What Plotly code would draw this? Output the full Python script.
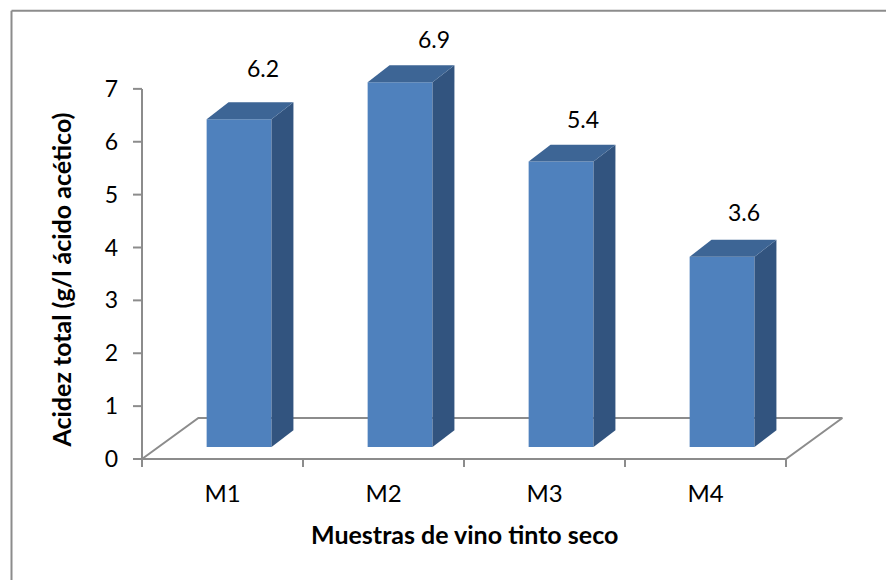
import plotly.graph_objects as go

# Acidez total por muestra de vino
categories = ["M1", "M2", "M3", "M4"]
values = [6.2, 6.9, 5.4, 3.6]
y_ticks = [0, 1, 2, 3, 4, 5, 6, 7]

# Oblique projection, in axis units
BAR_WIDTH = 0.403
BAR_SHIFT = 0.103
BAR_LIFT = 0.225
DEPTH_X = 0.136
DEPTH_Y = 0.32
FLOOR_X = 0.35
FLOOR_Y = 0.775

# Hand-placed value labels (pixels, relative to the bar's top centre)
label_dx = [24, 34, 22, 22]
label_dy = [51, 43, 43, 45]

FRONT = "#4F81BD"
TOP = "#3D6595"
SIDE = "#32547F"
GREY = "#8C8C8C"
FONT = "Lato"

W, H = 886, 580

# Pixel layout: one category is 161 px wide, one y unit is 52.9 px tall.
# The plotting area is larger than the 0-4 / 0-7 ranges so the depth of the
# bars and the floor are not clipped.
PX_X, PX_Y = 161.0, 52.9
ORIGIN_X, ORIGIN_Y = 142.0, 459.0
PLOT_L, PLOT_R = 132.0, 850.0
PLOT_B, PLOT_T = 470.0, ORIGIN_Y - 8 * PX_Y
X_RANGE = [(PLOT_L - ORIGIN_X) / PX_X, (PLOT_R - ORIGIN_X) / PX_X]
Y_RANGE = [(ORIGIN_Y - PLOT_B) / PX_Y, (ORIGIN_Y - PLOT_T) / PX_Y]
TICK_X = 9 / PX_X
TICK_Y = 8 / PX_Y


def paper_x(px):
    return (px - PLOT_L) / (PLOT_R - PLOT_L)


def paper_y(py):
    return (PLOT_B - py) / (PLOT_B - PLOT_T)


def base_line(xs, ys):
    return go.Scatter(x=xs, y=ys, mode="lines", line=dict(color=GREY, width=2),
                      hoverinfo="skip", showlegend=False)


fig = go.Figure()

# Floor of the chart, drawn behind the bars on the base axes
n = len(categories)
fig.add_trace(base_line([0, FLOOR_X, n + FLOOR_X, n, 0],
                        [0, FLOOR_Y, FLOOR_Y, 0, 0]))

# Axis lines and tick marks
fig.add_trace(base_line([0, 0], [-TICK_Y, max(y_ticks)]))
tick_xs, tick_ys = [], []
for t in y_ticks:
    tick_xs += [-TICK_X, 0, None]
    tick_ys += [t, t, None]
for i in range(n + 1):
    tick_xs += [i, i, None]
    tick_ys += [0, -TICK_Y, None]
fig.add_trace(base_line(tick_xs, tick_ys))

centres = [i + 0.5 + BAR_SHIFT for i in range(n)]

# Front faces
fig.add_trace(go.Bar(x=centres, y=values, base=BAR_LIFT, width=BAR_WIDTH,
                     marker=dict(color=FRONT, line=dict(width=0)),
                     xaxis="x2", yaxis="y2", showlegend=False))

# Side and top faces of each bar
for c, v in zip(centres, values):
    r = c + BAR_WIDTH / 2
    l = c - BAR_WIDTH / 2
    b = BAR_LIFT
    t = BAR_LIFT + v
    fig.add_trace(go.Scatter(
        x=[r, r + DEPTH_X, r + DEPTH_X, r, r],
        y=[b, b + DEPTH_Y, t + DEPTH_Y, t, b],
        mode="lines", fill="toself", fillcolor=SIDE, line=dict(width=0),
        xaxis="x2", yaxis="y2", hoverinfo="skip", showlegend=False))
    fig.add_trace(go.Scatter(
        x=[l, l + DEPTH_X, r + DEPTH_X, r, l],
        y=[t, t + DEPTH_Y, t + DEPTH_Y, t, t],
        mode="lines", fill="toself", fillcolor=TOP, line=dict(width=0),
        xaxis="x2", yaxis="y2", hoverinfo="skip", showlegend=False))

annotations = [
    dict(x=c, y=BAR_LIFT + v, xref="x2", yref="y2", text=f"{v:.1f}", showarrow=False,
         xanchor="center", yanchor="middle", xshift=dx, yshift=dy,
         font=dict(family=FONT, size=23, color="#000000"))
    for c, v, dx, dy in zip(centres, values, label_dx, label_dy)
]
annotations += [
    dict(x=paper_x(464), y=paper_y(534), xref="paper", yref="paper", showarrow=False,
         xanchor="center", yanchor="middle",
         text="<b>Muestras de vino tinto seco</b>",
         font=dict(family=FONT, size=25, color="#000000")),
    dict(x=paper_x(61), y=paper_y(280.5), xref="paper", yref="paper", showarrow=False,
         xanchor="center", yanchor="middle",
         textangle=-90, text="<b>Acidez total (g/l ácido acético)</b>",
         font=dict(family=FONT, size=25, color="#000000")),
]

fig.update_layout(
    width=W, height=H, autosize=False,
    margin=dict(l=PLOT_L, r=W - PLOT_R, t=PLOT_T, b=H - PLOT_B, pad=0),
    paper_bgcolor="#FFFFFF", plot_bgcolor="rgba(0,0,0,0)",
    showlegend=False, annotations=annotations,
    xaxis=dict(range=X_RANGE, tickmode="array",
               tickvals=[i + 0.5 for i in range(n)], ticktext=categories,
               showgrid=False, zeroline=False, showline=False, ticks="",
               ticklabelstandoff=7, tickfont=dict(family=FONT, size=24, color="#000000")),
    yaxis=dict(range=Y_RANGE, tickmode="array", tickvals=y_ticks,
               showgrid=False, zeroline=False, showline=False, ticks="",
               ticklabelstandoff=13, tickfont=dict(family=FONT, size=23, color="#000000")),
    xaxis2=dict(range=X_RANGE, overlaying="x", visible=False),
    yaxis2=dict(range=Y_RANGE, overlaying="y", visible=False),
    shapes=[
        # Chart frame: only its top and left edges fall inside the page
        dict(type="line", xref="paper", yref="paper", x0=paper_x(11.5), x1=paper_x(890),
             y0=paper_y(10.5), y1=paper_y(10.5), line=dict(color=GREY, width=2)),
        dict(type="line", xref="paper", yref="paper", x0=paper_x(11.5), x1=paper_x(11.5),
             y0=paper_y(10.5), y1=paper_y(585), line=dict(color=GREY, width=2)),
    ],
)

fig.write_html("out.html")
